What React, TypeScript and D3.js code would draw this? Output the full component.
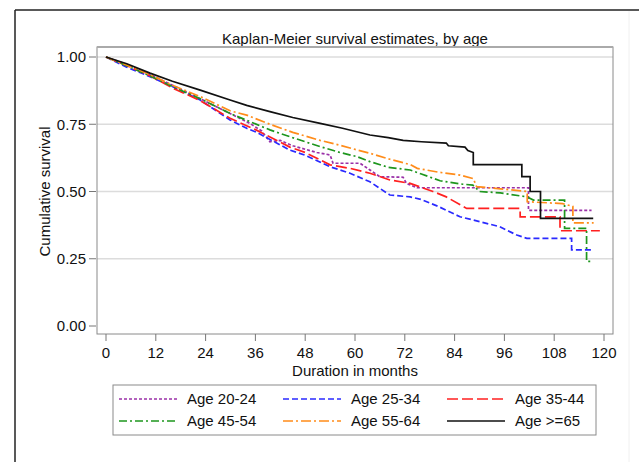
import * as d3 from "d3";
import { ReactElement } from "react";

// Kaplan-Meier curves: [month, survival]
const age2024: [number, number][] = [
    [0, 1], [5, 0.972], [10.6, 0.935], [16, 0.895], [22.7, 0.845], [29.9, 0.79], [34.7, 0.753],
    [37.5, 0.725], [39.5, 0.685], [42, 0.69], [45, 0.67], [50.8, 0.645], [54, 0.636], [54.7, 0.605],
    [61.2, 0.605], [63.6, 0.58], [66, 0.555], [71.6, 0.553], [72.4, 0.53], [74.9, 0.514],
    [101.8, 0.514], [101.8, 0.43], [117, 0.43],
];
const age2534: [number, number][] = [
    [0, 1], [5, 0.962], [10.6, 0.927], [16, 0.89], [22.7, 0.84], [29.9, 0.766], [33.9, 0.735],
    [36.3, 0.72], [44.3, 0.654], [48, 0.635], [54, 0.592], [58.8, 0.568], [63.6, 0.536],
    [68.4, 0.487], [73.3, 0.48], [76, 0.47], [80, 0.445], [85.3, 0.406], [88.5, 0.394],
    [94.9, 0.369], [99, 0.338], [101.4, 0.326], [112.2, 0.326], [112.2, 0.283], [117.3, 0.283],
];
const age3544: [number, number][] = [
    [0, 1], [5, 0.968], [10.6, 0.93], [16, 0.885], [22.7, 0.838], [29.9, 0.772], [36, 0.73],
    [44.3, 0.665], [48, 0.645], [54, 0.599], [58.8, 0.586], [63.6, 0.568], [68.4, 0.543],
    [73.3, 0.53], [78.8, 0.5], [82, 0.48], [86.9, 0.437], [99.8, 0.437], [99.8, 0.406],
    [109.4, 0.406], [109.4, 0.354], [119, 0.354],
];
const age4554: [number, number][] = [
    [0, 1], [5, 0.968], [10.6, 0.93], [16, 0.89], [22.7, 0.845], [29.9, 0.79], [33.9, 0.765],
    [39.5, 0.729], [45, 0.7], [51.6, 0.667], [56.4, 0.645], [60.4, 0.63], [63.6, 0.611],
    [68, 0.59], [73.3, 0.58], [76, 0.565], [80.5, 0.54], [86, 0.527], [88.4, 0.524], [90, 0.5],
    [95, 0.495], [101.4, 0.48], [103, 0.468], [110.5, 0.468], [110.5, 0.363], [115.8, 0.363],
    [115.8, 0.24], [117.3, 0.24],
];
const age5564: [number, number][] = [
    [0, 1], [5, 0.97], [10.6, 0.935], [16, 0.895], [22.7, 0.853], [29.9, 0.8], [33.9, 0.784],
    [39.5, 0.75], [45, 0.72], [51.6, 0.69], [56.4, 0.672], [60.4, 0.655], [63.6, 0.642],
    [68.4, 0.62], [73.3, 0.6], [75, 0.586], [80, 0.572], [85.3, 0.561], [88.5, 0.548],
    [89.3, 0.518], [95, 0.51], [101.5, 0.5], [101.5, 0.462], [110, 0.455], [112.5, 0.445],
    [112.5, 0.383], [117.5, 0.383],
];
const age65: [number, number][] = [
    [0, 1], [5, 0.975], [10.6, 0.94], [16, 0.91], [22.7, 0.877], [29.9, 0.84], [33.9, 0.82],
    [39.5, 0.797], [45, 0.775], [51.6, 0.753], [57, 0.735], [63.6, 0.71], [68, 0.7], [71.6, 0.69],
    [76, 0.685], [82, 0.68], [82.5, 0.67], [86.5, 0.665], [87.2, 0.652], [88.5, 0.645],
    [88.5, 0.6], [100.2, 0.6], [100.2, 0.555], [102.2, 0.555], [102.2, 0.5], [104.7, 0.5],
    [104.7, 0.4], [117.4, 0.4],
];

const seriesNames = ["Age 20-24", "Age 25-34", "Age 35-44", "Age 45-54", "Age 55-64", "Age >=65"];
const seriesData = [age2024, age2534, age3544, age4554, age5564, age65];
const xTicks = [0, 12, 24, 36, 48, 60, 72, 84, 96, 108, 120];
const yTicks = [0, 0.25, 0.5, 0.75, 1];

const colors = ["#9a30a8", "#2a2aff", "#ff2020", "#1e961e", "#ff8c1a", "#111111"];
const dashes = ["3,2", "6,3", "11,4", "8,3,2,3", "10,3,2,3", "none"];

const FONT = "'Liberation Sans', Arial, sans-serif";

const App = (): ReactElement => {
    const width = 639;
    const height = 462;

    // plot box
    const left = 97, right = 613, top = 47, bottom = 334;

    const xScale = d3.scaleLinear().domain([0, 120]).range([106, 604]);
    const yScale = d3.scaleLinear().domain([0, 1]).range([326, 57]);

    const line = d3.line<[number, number]>()
        .x(d => xScale(d[0]))
        .y(d => yScale(d[1]));

    // legend layout
    const legX = 113, legY = 385, legW = 483, legH = 50;
    const colStart = [119, 283, 447];
    const rowY = [399, 421];

    return (
        <svg width={width} height={height} style={{ position: "absolute", left: 0, top: 0, background: "#fff" }}
            fontFamily={FONT}>
            {/* outer frame */}
            <line x1={15} x2={15} y1={10} y2={height} stroke="#222" strokeWidth={1.5} />
            <line x1={15} x2={width} y1={10} y2={10} stroke="#222" strokeWidth={1.5} />
            <line x1={629} x2={629} y1={11} y2={height} stroke="#f0f0f0" strokeWidth={1} />

            <text x={355} y={44} textAnchor="middle" fontSize={15} fill="#111">
                Kaplan-Meier survival estimates, by age
            </text>

            {/* grid */}
            {yTicks.filter(t => t > 0).map(t => (
                <line key={t} x1={left} x2={right} y1={yScale(t)} y2={yScale(t)} stroke="#dcdcdc" strokeWidth={1.5} />
            ))}

            {/* plot box */}
            <rect x={left} y={top} width={right - left} height={bottom - top} fill="none" stroke="#8a8a8a" strokeWidth={1} />
            <line x1={left} x2={right} y1={top} y2={top} stroke="#aaa" strokeWidth={2} />

            {/* y axis */}
            {yTicks.map(t => (
                <g key={t}>
                    <line x1={89} x2={96} y1={yScale(t)} y2={yScale(t)} stroke="#777" />
                    <text x={86} y={yScale(t)} dy="0.35em" textAnchor="end" fontSize={15} fill="#111">
                        {d3.format(".2f")(t)}
                    </text>
                </g>
            ))}
            <text transform={`translate(45,${(yScale(0) + yScale(1)) / 2}) rotate(-90)`} textAnchor="middle"
                dy="0.35em" fontSize={15} fill="#111">Cumulative survival</text>

            {/* x axis */}
            {xTicks.map(t => (
                <g key={t}>
                    <line x1={xScale(t)} x2={xScale(t)} y1={bottom} y2={341} stroke="#777" />
                    <text x={xScale(t)} y={353} dy="0.35em" textAnchor="middle" fontSize={15} fill="#111">{t}</text>
                </g>
            ))}
            <text x={355} y={371} dy="0.35em" textAnchor="middle" fontSize={15} fill="#111">Duration in months</text>

            {/* curves */}
            {seriesData.map((d, i) => (
                <path key={seriesNames[i]} d={line(d) ?? ""} fill="none" stroke={colors[i]} strokeWidth={1.7}
                    strokeDasharray={dashes[i]} />
            ))}

            {/* legend */}
            <rect x={legX} y={legY} width={legW} height={legH} fill="#fff" stroke="#8a8a8a" strokeWidth={1} />
            {seriesNames.map((name, i) => {
                const cx = colStart[i % 3];
                const cy = rowY[Math.floor(i / 3)];
                return (
                    <g key={name}>
                        <line x1={cx} x2={cx + 58} y1={cy} y2={cy} stroke={colors[i]} strokeWidth={1.7}
                            strokeDasharray={dashes[i]} />
                        <text x={cx + 68} y={cy} dy="0.35em" fontSize={15} fill="#111">{name}</text>
                    </g>
                );
            })}
        </svg>
    );
};

export default App;
